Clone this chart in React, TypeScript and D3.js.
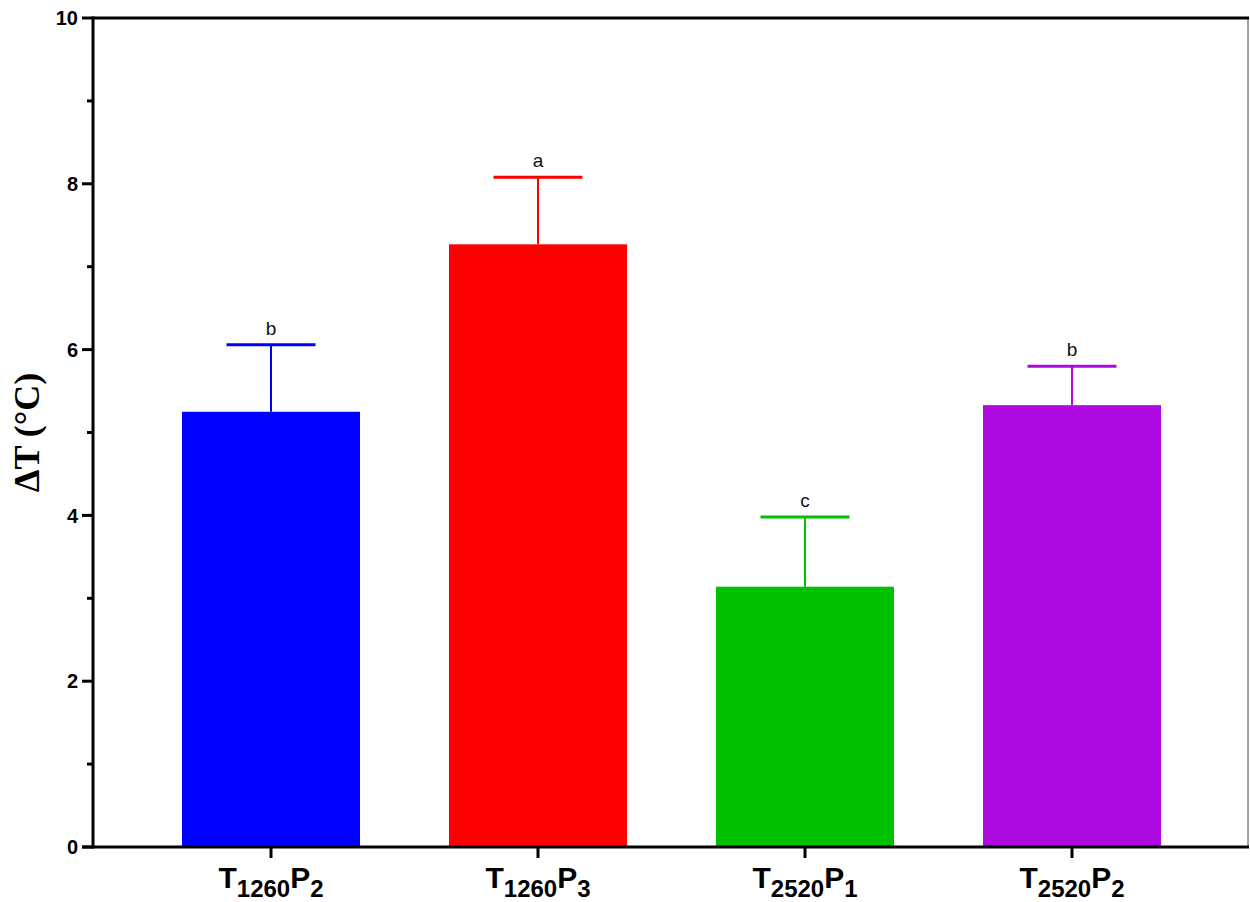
import React, { useEffect, useRef } from 'react';
import * as d3 from 'd3';

const width = 1250;
const height = 902;

// groups: main letter, first subscript, second letter, second subscript
const groups = ['T1260P2', 'T1260P3', 'T2520P1', 'T2520P2'];
const labelParts = [
  ['T', '1260', 'P', '2'],
  ['T', '1260', 'P', '3'],
  ['T', '2520', 'P', '1'],
  ['T', '2520', 'P', '2'],
];
const means = [5.25, 7.27, 3.14, 5.33];
const errors = [0.81, 0.81, 0.84, 0.47];
const letters = ['b', 'a', 'c', 'b'];
const colors = ['#0000ff', '#ff0000', '#00c000', '#ad0ae0'];
const yTicks = [0, 2, 4, 6, 8, 10];
const yMinor = [1, 3, 5, 7, 9];

const App = () => {
  const ref = useRef<SVGSVGElement | null>(null);

  useEffect(() => {
    const svg = d3.select(ref.current);
    svg.selectAll('*').remove();

    const left = 93;
    const right = 1248;
    const top = 18;
    const bottom = 847;

    const y = d3.scaleLinear().domain([0, 10]).range([bottom, top]);
    const x = d3.scaleBand().domain(groups).range([137.5, 1205.5]).paddingInner(1 / 3).paddingOuter(1 / 6);

    // frame: thin right border, thick top border
    svg.append('line')
      .attr('x1', right).attr('x2', right).attr('y1', top).attr('y2', bottom)
      .attr('stroke', '#444').attr('stroke-width', 1);
    svg.append('line')
      .attr('x1', left).attr('x2', right + 1).attr('y1', top).attr('y2', top)
      .attr('stroke', '#000').attr('stroke-width', 3);

    // bars
    const g = svg.append('g');
    groups.forEach((d, i) => {
      const bx = x(d) as number;
      const bw = x.bandwidth();
      const cx = bx + bw / 2;
      const c = colors[i];
      g.append('rect')
        .attr('x', bx).attr('y', y(means[i]))
        .attr('width', bw).attr('height', y(0) - y(means[i]))
        .attr('fill', c);
      // error bar
      g.append('line')
        .attr('x1', cx).attr('x2', cx)
        .attr('y1', y(means[i])).attr('y2', y(means[i] + errors[i]))
        .attr('stroke', c).attr('stroke-width', 2);
      g.append('line')
        .attr('x1', cx - bw / 4).attr('x2', cx + bw / 4)
        .attr('y1', y(means[i] + errors[i])).attr('y2', y(means[i] + errors[i]))
        .attr('stroke', c).attr('stroke-width', 3);
      g.append('text')
        .attr('x', cx).attr('y', y(means[i] + errors[i]) - 10)
        .attr('text-anchor', 'middle')
        .attr('font-family', 'Liberation Sans, Arial, sans-serif')
        .attr('font-size', 19)
        .attr('fill', '#111')
        .text(letters[i]);
    });

    // y axis
    svg.append('line')
      .attr('x1', left).attr('x2', left).attr('y1', top - 1.5).attr('y2', bottom + 1.5)
      .attr('stroke', '#000').attr('stroke-width', 3);
    yTicks.forEach(t => {
      svg.append('line')
        .attr('x1', left - 11).attr('x2', left).attr('y1', y(t)).attr('y2', y(t))
        .attr('stroke', '#000').attr('stroke-width', 3);
      svg.append('text')
        .attr('x', left - 15).attr('y', y(t)).attr('dy', '0.36em')
        .attr('text-anchor', 'end')
        .attr('font-family', 'Liberation Sans, Arial, sans-serif')
        .attr('font-weight', 'bold').attr('font-size', 20)
        .text(t);
    });
    yMinor.forEach(t => {
      svg.append('line')
        .attr('x1', left - 6).attr('x2', left).attr('y1', y(t)).attr('y2', y(t))
        .attr('stroke', '#000').attr('stroke-width', 3);
    });

    // x axis
    svg.append('line')
      .attr('x1', left - 11).attr('x2', right + 1).attr('y1', bottom).attr('y2', bottom)
      .attr('stroke', '#000').attr('stroke-width', 3);
    groups.forEach((d, i) => {
      const cx = (x(d) as number) + x.bandwidth() / 2;
      svg.append('line')
        .attr('x1', cx).attr('x2', cx).attr('y1', bottom).attr('y2', bottom + 11)
        .attr('stroke', '#000').attr('stroke-width', 3);
      const p = labelParts[i];
      const t = svg.append('text')
        .attr('x', cx).attr('y', bottom + 41)
        .attr('text-anchor', 'middle')
        .attr('font-family', 'Liberation Sans, Arial, sans-serif')
        .attr('font-weight', 'bold').attr('font-size', 30);
      t.append('tspan').text(p[0]);
      t.append('tspan').attr('font-size', 24).attr('dy', 9).text(p[1]);
      t.append('tspan').attr('dy', -9).text(p[2]);
      t.append('tspan').attr('font-size', 24).attr('dy', 9).text(p[3]);
    });

    // y title
    svg.append('text')
      .attr('transform', `translate(39,${(top + bottom) / 2}) rotate(-90)`)
      .attr('text-anchor', 'middle')
      .attr('font-family', 'Liberation Serif, Times New Roman, serif')
      .attr('font-weight', 'bold').attr('font-size', 36)
      .text('ΔT (°C)');
  }, []);

  return (
    <svg ref={ref} width={width} height={height}
      style={{ position: 'absolute', left: 0, top: 0, background: '#fff' }} />
  );
};

export default App;
